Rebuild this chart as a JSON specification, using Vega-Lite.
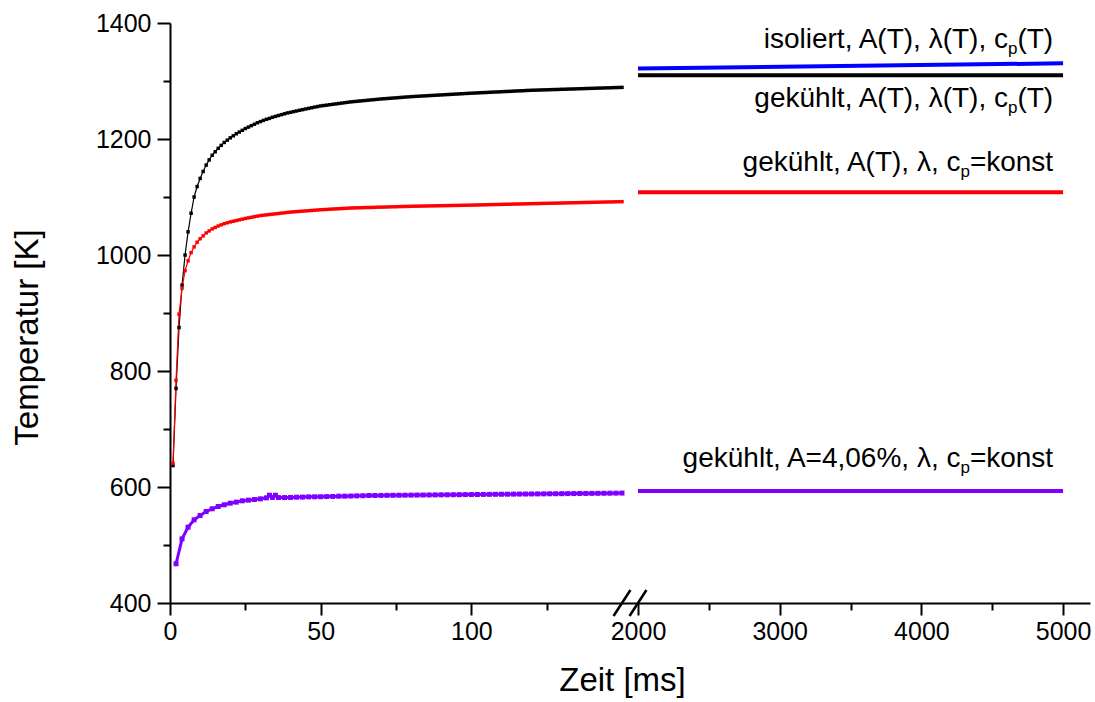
{
  "$schema": "https://vega.github.io/schema/vega-lite/v6.json",
  "width": 920,
  "height": 580,
  "autosize": "none",
  "padding": {"left": 170, "top": 23, "right": 5, "bottom": 99},
  "background": "white",
  "datasets": {
    "curves": [
      {"s":"u","t":2000,"T":1321.5},{"s":"u","t":5000,"T":1330.5},
      {"s":"b","t":2000,"T":1310},{"s":"b","t":5000,"T":1310},
      {"s":"r","t":2000,"T":1108},{"s":"r","t":5000,"T":1108},
      {"s":"v","t":2000,"T":593},{"s":"v","t":5000,"T":593},
      {"s":"b","t":1,"T":637},{"s":"b","t":2,"T":770},{"s":"b","t":3,"T":875},{"s":"b","t":4,"T":948},{"s":"b","t":5,"T":1000},
      {"s":"b","t":6,"T":1040},{"s":"b","t":7,"T":1072},{"s":"b","t":8,"T":1100},{"s":"b","t":9,"T":1118},{"s":"b","t":10,"T":1132},
      {"s":"b","t":11,"T":1144},{"s":"b","t":12,"T":1155},{"s":"b","t":13,"T":1164},{"s":"b","t":14,"T":1172},{"s":"b","t":15,"T":1178},
      {"s":"b","t":16,"T":1184},{"s":"b","t":17,"T":1189},{"s":"b","t":18,"T":1194},{"s":"b","t":19,"T":1198},{"s":"b","t":20,"T":1202},
      {"s":"b","t":21,"T":1205.5},{"s":"b","t":22,"T":1209},{"s":"b","t":23,"T":1212},{"s":"b","t":24,"T":1215},{"s":"b","t":25,"T":1218},
      {"s":"b","t":26,"T":1220.5},{"s":"b","t":27,"T":1223},{"s":"b","t":28,"T":1225.5},{"s":"b","t":29,"T":1228},{"s":"b","t":30,"T":1230},
      {"s":"b","t":31,"T":1232},{"s":"b","t":32,"T":1234},{"s":"b","t":33,"T":1235.5},{"s":"b","t":34,"T":1237.5},{"s":"b","t":35,"T":1239},
      {"s":"b","t":36,"T":1240.5},{"s":"b","t":37,"T":1242},{"s":"b","t":38,"T":1243.5},{"s":"b","t":39,"T":1245},{"s":"b","t":40,"T":1246},
      {"s":"b","t":41,"T":1247.2},{"s":"b","t":42,"T":1248.3},{"s":"b","t":43,"T":1249.5},{"s":"b","t":44,"T":1250.6},{"s":"b","t":45,"T":1251.7},
      {"s":"b","t":46,"T":1252.8},{"s":"b","t":47,"T":1253.9},{"s":"b","t":48,"T":1255},{"s":"b","t":49,"T":1256},{"s":"b","t":50,"T":1257},
      {"s":"b","t":51,"T":1257.7},{"s":"b","t":52,"T":1258.4},{"s":"b","t":53,"T":1259.1},{"s":"b","t":54,"T":1259.8},{"s":"b","t":55,"T":1260.5},
      {"s":"b","t":56,"T":1261.2},{"s":"b","t":57,"T":1261.9},{"s":"b","t":58,"T":1262.6},{"s":"b","t":59,"T":1263.3},{"s":"b","t":60,"T":1264},
      {"s":"b","t":61,"T":1264.5},{"s":"b","t":62,"T":1265},{"s":"b","t":63,"T":1265.5},{"s":"b","t":64,"T":1266},{"s":"b","t":65,"T":1266.5},
      {"s":"b","t":66,"T":1267},{"s":"b","t":67,"T":1267.5},{"s":"b","t":68,"T":1268},{"s":"b","t":69,"T":1268.5},{"s":"b","t":70,"T":1269},
      {"s":"b","t":71,"T":1269.4},{"s":"b","t":72,"T":1269.8},{"s":"b","t":73,"T":1270.2},{"s":"b","t":74,"T":1270.6},{"s":"b","t":75,"T":1271},
      {"s":"b","t":76,"T":1271.4},{"s":"b","t":77,"T":1271.8},{"s":"b","t":78,"T":1272.2},{"s":"b","t":79,"T":1272.6},{"s":"b","t":80,"T":1273},
      {"s":"b","t":81,"T":1273.3},{"s":"b","t":82,"T":1273.6},{"s":"b","t":83,"T":1273.9},{"s":"b","t":84,"T":1274.2},{"s":"b","t":85,"T":1274.5},
      {"s":"b","t":86,"T":1274.8},{"s":"b","t":87,"T":1275.1},{"s":"b","t":88,"T":1275.4},{"s":"b","t":89,"T":1275.7},{"s":"b","t":90,"T":1276},
      {"s":"b","t":91,"T":1276.3},{"s":"b","t":92,"T":1276.6},{"s":"b","t":93,"T":1276.9},{"s":"b","t":94,"T":1277.2},{"s":"b","t":95,"T":1277.5},
      {"s":"b","t":96,"T":1277.8},{"s":"b","t":97,"T":1278.1},{"s":"b","t":98,"T":1278.4},{"s":"b","t":99,"T":1278.7},{"s":"b","t":100,"T":1279},
      {"s":"b","t":101,"T":1279.2},{"s":"b","t":102,"T":1279.5},{"s":"b","t":103,"T":1279.8},{"s":"b","t":104,"T":1280},{"s":"b","t":105,"T":1280.2},
      {"s":"b","t":106,"T":1280.5},{"s":"b","t":107,"T":1280.8},{"s":"b","t":108,"T":1281},{"s":"b","t":109,"T":1281.2},{"s":"b","t":110,"T":1281.5},
      {"s":"b","t":111,"T":1281.8},{"s":"b","t":112,"T":1282},{"s":"b","t":113,"T":1282.2},{"s":"b","t":114,"T":1282.5},{"s":"b","t":115,"T":1282.8},
      {"s":"b","t":116,"T":1283},{"s":"b","t":117,"T":1283.2},{"s":"b","t":118,"T":1283.5},{"s":"b","t":119,"T":1283.8},{"s":"b","t":120,"T":1284},
      {"s":"b","t":121,"T":1284.2},{"s":"b","t":122,"T":1284.3},{"s":"b","t":123,"T":1284.5},{"s":"b","t":124,"T":1284.7},{"s":"b","t":125,"T":1284.8},
      {"s":"b","t":126,"T":1285},{"s":"b","t":127,"T":1285.2},{"s":"b","t":128,"T":1285.3},{"s":"b","t":129,"T":1285.5},{"s":"b","t":130,"T":1285.7},
      {"s":"b","t":131,"T":1285.8},{"s":"b","t":132,"T":1286},{"s":"b","t":133,"T":1286.2},{"s":"b","t":134,"T":1286.3},{"s":"b","t":135,"T":1286.5},
      {"s":"b","t":136,"T":1286.7},{"s":"b","t":137,"T":1286.8},{"s":"b","t":138,"T":1287},{"s":"b","t":139,"T":1287.2},{"s":"b","t":140,"T":1287.3},
      {"s":"b","t":141,"T":1287.5},{"s":"b","t":142,"T":1287.7},{"s":"b","t":143,"T":1287.8},{"s":"b","t":144,"T":1288},{"s":"b","t":145,"T":1288.2},
      {"s":"b","t":146,"T":1288.3},{"s":"b","t":147,"T":1288.5},{"s":"b","t":148,"T":1288.7},{"s":"b","t":149,"T":1288.8},{"s":"b","t":150,"T":1289},
      {"s":"r","t":1,"T":641},{"s":"r","t":2,"T":784},{"s":"r","t":3,"T":898},{"s":"r","t":4,"T":943},{"s":"r","t":5,"T":973},
      {"s":"r","t":6,"T":990},{"s":"r","t":7,"T":1004},{"s":"r","t":8,"T":1014},{"s":"r","t":9,"T":1022},{"s":"r","t":10,"T":1028},
      {"s":"r","t":11,"T":1033},{"s":"r","t":12,"T":1038},{"s":"r","t":13,"T":1041.5},{"s":"r","t":14,"T":1045},{"s":"r","t":15,"T":1047.5},
      {"s":"r","t":16,"T":1050},{"s":"r","t":17,"T":1052},{"s":"r","t":18,"T":1054},{"s":"r","t":19,"T":1055.5},{"s":"r","t":20,"T":1057},
      {"s":"r","t":21,"T":1058.2},{"s":"r","t":22,"T":1059.4},{"s":"r","t":23,"T":1060.6},{"s":"r","t":24,"T":1061.8},{"s":"r","t":25,"T":1063},
      {"s":"r","t":26,"T":1064},{"s":"r","t":27,"T":1065},{"s":"r","t":28,"T":1066},{"s":"r","t":29,"T":1067},{"s":"r","t":30,"T":1068},
      {"s":"r","t":31,"T":1068.6},{"s":"r","t":32,"T":1069.2},{"s":"r","t":33,"T":1069.8},{"s":"r","t":34,"T":1070.4},{"s":"r","t":35,"T":1071},
      {"s":"r","t":36,"T":1071.6},{"s":"r","t":37,"T":1072.2},{"s":"r","t":38,"T":1072.8},{"s":"r","t":39,"T":1073.4},{"s":"r","t":40,"T":1074},
      {"s":"r","t":41,"T":1074.4},{"s":"r","t":42,"T":1074.8},{"s":"r","t":43,"T":1075.2},{"s":"r","t":44,"T":1075.6},{"s":"r","t":45,"T":1076},
      {"s":"r","t":46,"T":1076.4},{"s":"r","t":47,"T":1076.8},{"s":"r","t":48,"T":1077.2},{"s":"r","t":49,"T":1077.6},{"s":"r","t":50,"T":1078},
      {"s":"r","t":51,"T":1078.3},{"s":"r","t":52,"T":1078.6},{"s":"r","t":53,"T":1078.9},{"s":"r","t":54,"T":1079.2},{"s":"r","t":55,"T":1079.5},
      {"s":"r","t":56,"T":1079.8},{"s":"r","t":57,"T":1080.1},{"s":"r","t":58,"T":1080.4},{"s":"r","t":59,"T":1080.7},{"s":"r","t":60,"T":1081},
      {"s":"r","t":61,"T":1081.2},{"s":"r","t":62,"T":1081.3},{"s":"r","t":63,"T":1081.5},{"s":"r","t":64,"T":1081.6},{"s":"r","t":65,"T":1081.8},
      {"s":"r","t":66,"T":1081.9},{"s":"r","t":67,"T":1082},{"s":"r","t":68,"T":1082.2},{"s":"r","t":69,"T":1082.4},{"s":"r","t":70,"T":1082.5},
      {"s":"r","t":71,"T":1082.6},{"s":"r","t":72,"T":1082.8},{"s":"r","t":73,"T":1083},{"s":"r","t":74,"T":1083.1},{"s":"r","t":75,"T":1083.2},
      {"s":"r","t":76,"T":1083.4},{"s":"r","t":77,"T":1083.6},{"s":"r","t":78,"T":1083.7},{"s":"r","t":79,"T":1083.8},{"s":"r","t":80,"T":1084},
      {"s":"r","t":81,"T":1084.1},{"s":"r","t":82,"T":1084.2},{"s":"r","t":83,"T":1084.3},{"s":"r","t":84,"T":1084.4},{"s":"r","t":85,"T":1084.5},
      {"s":"r","t":86,"T":1084.6},{"s":"r","t":87,"T":1084.7},{"s":"r","t":88,"T":1084.8},{"s":"r","t":89,"T":1084.9},{"s":"r","t":90,"T":1085},
      {"s":"r","t":91,"T":1085.1},{"s":"r","t":92,"T":1085.2},{"s":"r","t":93,"T":1085.3},{"s":"r","t":94,"T":1085.4},{"s":"r","t":95,"T":1085.5},
      {"s":"r","t":96,"T":1085.6},{"s":"r","t":97,"T":1085.7},{"s":"r","t":98,"T":1085.8},{"s":"r","t":99,"T":1085.9},{"s":"r","t":100,"T":1086},
      {"s":"r","t":101,"T":1086.1},{"s":"r","t":102,"T":1086.2},{"s":"r","t":103,"T":1086.4},{"s":"r","t":104,"T":1086.5},{"s":"r","t":105,"T":1086.6},
      {"s":"r","t":106,"T":1086.8},{"s":"r","t":107,"T":1086.9},{"s":"r","t":108,"T":1087},{"s":"r","t":109,"T":1087.1},{"s":"r","t":110,"T":1087.2},
      {"s":"r","t":111,"T":1087.4},{"s":"r","t":112,"T":1087.5},{"s":"r","t":113,"T":1087.6},{"s":"r","t":114,"T":1087.8},{"s":"r","t":115,"T":1087.9},
      {"s":"r","t":116,"T":1088},{"s":"r","t":117,"T":1088.1},{"s":"r","t":118,"T":1088.2},{"s":"r","t":119,"T":1088.4},{"s":"r","t":120,"T":1088.5},
      {"s":"r","t":121,"T":1088.6},{"s":"r","t":122,"T":1088.7},{"s":"r","t":123,"T":1088.9},{"s":"r","t":124,"T":1089},{"s":"r","t":125,"T":1089.1},
      {"s":"r","t":126,"T":1089.2},{"s":"r","t":127,"T":1089.3},{"s":"r","t":128,"T":1089.4},{"s":"r","t":129,"T":1089.5},{"s":"r","t":130,"T":1089.6},
      {"s":"r","t":131,"T":1089.8},{"s":"r","t":132,"T":1089.9},{"s":"r","t":133,"T":1090},{"s":"r","t":134,"T":1090.1},{"s":"r","t":135,"T":1090.2},
      {"s":"r","t":136,"T":1090.4},{"s":"r","t":137,"T":1090.5},{"s":"r","t":138,"T":1090.6},{"s":"r","t":139,"T":1090.7},{"s":"r","t":140,"T":1090.8},
      {"s":"r","t":141,"T":1090.9},{"s":"r","t":142,"T":1091},{"s":"r","t":143,"T":1091.2},{"s":"r","t":144,"T":1091.3},{"s":"r","t":145,"T":1091.4},
      {"s":"r","t":146,"T":1091.5},{"s":"r","t":147,"T":1091.6},{"s":"r","t":148,"T":1091.8},{"s":"r","t":149,"T":1091.9},{"s":"r","t":150,"T":1092},
      {"s":"v","t":2,"T":467.6},{"s":"v","t":4,"T":510.6},{"s":"v","t":6,"T":530.7},{"s":"v","t":8,"T":543.4},{"s":"v","t":10,"T":550.9},
      {"s":"v","t":12,"T":557.8},{"s":"v","t":14,"T":562.4},{"s":"v","t":16,"T":566.4},{"s":"v","t":18,"T":569.3},{"s":"v","t":20,"T":572.1},
      {"s":"v","t":22,"T":573.9},{"s":"v","t":24,"T":576.2},{"s":"v","t":26,"T":577.3},{"s":"v","t":28,"T":578.4},{"s":"v","t":30,"T":579.6},
      {"s":"v","t":32,"T":581.3},{"s":"v","t":33,"T":585.8},{"s":"v","t":34,"T":582},{"s":"v","t":35,"T":585.8},{"s":"v","t":36,"T":581.8},
      {"s":"v","t":38,"T":581.8},{"s":"v","t":40,"T":582},{"s":"v","t":42,"T":582.4},{"s":"v","t":44,"T":582.6},{"s":"v","t":46,"T":583},
      {"s":"v","t":48,"T":583.1},{"s":"v","t":50,"T":583.2},{"s":"v","t":52,"T":583.5},{"s":"v","t":54,"T":583.7},{"s":"v","t":56,"T":584.1},
      {"s":"v","t":58,"T":584.2},{"s":"v","t":60,"T":584.4},{"s":"v","t":62,"T":584.7},{"s":"v","t":64,"T":584.9},{"s":"v","t":66,"T":585.3},
      {"s":"v","t":68,"T":585.4},{"s":"v","t":70,"T":585.5},{"s":"v","t":72,"T":585.6},{"s":"v","t":74,"T":585.7},{"s":"v","t":76,"T":585.8},
      {"s":"v","t":78,"T":585.9},{"s":"v","t":80,"T":586},{"s":"v","t":82,"T":586.1},{"s":"v","t":84,"T":586.2},{"s":"v","t":86,"T":586.3},
      {"s":"v","t":88,"T":586.4},{"s":"v","t":90,"T":586.5},{"s":"v","t":92,"T":586.6},{"s":"v","t":94,"T":586.7},{"s":"v","t":96,"T":586.8},
      {"s":"v","t":98,"T":586.9},{"s":"v","t":100,"T":587},{"s":"v","t":102,"T":587.1},{"s":"v","t":104,"T":587.2},{"s":"v","t":106,"T":587.3},
      {"s":"v","t":108,"T":587.4},{"s":"v","t":110,"T":587.5},{"s":"v","t":112,"T":587.6},{"s":"v","t":114,"T":587.7},{"s":"v","t":116,"T":587.8},
      {"s":"v","t":118,"T":587.9},{"s":"v","t":120,"T":588},{"s":"v","t":122,"T":588.1},{"s":"v","t":124,"T":588.2},{"s":"v","t":126,"T":588.3},
      {"s":"v","t":128,"T":588.4},{"s":"v","t":130,"T":588.5},{"s":"v","t":132,"T":588.6},{"s":"v","t":134,"T":588.7},{"s":"v","t":136,"T":588.8},
      {"s":"v","t":138,"T":588.9},{"s":"v","t":140,"T":589},{"s":"v","t":142,"T":589.1},{"s":"v","t":144,"T":589.2},{"s":"v","t":146,"T":589.3},
      {"s":"v","t":148,"T":589.4},{"s":"v","t":150,"T":589.5}
    ],
    "labels": [
      {"t":4930,"T":1357,"main":"isoliert, A(T), λ(T), c","sub":"p","tail":"(T)"},
      {"t":4930,"T":1256,"main":"gekühlt, A(T), λ(T), c","sub":"p","tail":"(T)"},
      {"t":4930,"T":1144,"main":"gekühlt, A(T), λ, c","sub":"p","tail":"=konst"},
      {"t":4930,"T":635,"main":"gekühlt, A=4,06%, λ, c","sub":"p","tail":"=konst"}
    ],
    "breaks": [
      {"t":150,"T":400},
      {"t":2000,"T":400}
    ]
  },
  "encoding": {
    "x": {"field": "t", "type": "quantitative",
      "scale": {"domain": [0, 150, 2000, 5190], "range": [0, 452, 468, 920], "nice": false, "zero": false},
      "axis": null},
    "y": {"field": "T", "type": "quantitative",
      "scale": {"domain": [400, 1400], "nice": false, "zero": false},
      "axis": null}
  },
  "resolve": {"axis": {"x": "independent", "y": "independent"}},
  "layer": [
    {
      "data": {"name": "curves"},
      "transform": [{"filter": "datum.t >= 2000"}],
      "mark": {"type": "line", "strokeWidth": 4, "strokeCap": "butt"},
      "encoding": {
        "x": {"field": "t", "type": "quantitative",
          "scale": {"domain": [0, 150, 2000, 5190], "range": [0, 452, 468, 920], "nice": false, "zero": false},
          "axis": {
            "title": "Zeit [ms]",
            "orient": "bottom",
            "values": [0, 50, 100, 2000, 3000, 4000, 5000],
            "format": "d",
            "tickSize": 12,
            "labelFlush": false,
            "labelOverlap": false,
            "labelPadding": 4,
            "titleX": 452,
            "titlePadding": 20
          }
        },
        "y": {"field": "T", "type": "quantitative",
          "scale": {"domain": [400, 1400], "nice": false, "zero": false},
          "axis": {
            "title": "Temperatur [K]",
            "orient": "left",
            "values": [400, 600, 800, 1000, 1200, 1400],
            "format": "d",
            "tickSize": 13,
            "labelOverlap": false,
            "labelPadding": 6,
            "titleY": 314,
            "titlePadding": 51
          }
        },
        "detail": {"field": "s"},
        "color": {"field": "s", "type": "nominal",
          "scale": {"domain": ["u", "b", "r", "v"], "range": ["#0000ff", "#000000", "#ff0000", "#8000ff"]},
          "legend": null}
      }
    },
    {
      "data": {"name": "curves"},
      "transform": [{"filter": "datum.t <= 150 && datum.s != 'v'"}],
      "mark": {"type": "line", "strokeWidth": 1.2},
      "encoding": {"color": {"field": "s", "type": "nominal", "legend": null}}
    },
    {
      "data": {"name": "curves"},
      "transform": [{"filter": "datum.t <= 150 && datum.s != 'v'"}],
      "mark": {"type": "square", "size": 12, "opacity": 1},
      "encoding": {"color": {"field": "s", "type": "nominal", "legend": null}}
    },
    {
      "data": {"name": "curves"},
      "transform": [{"filter": "datum.t <= 150 && datum.s == 'v'"}],
      "mark": {"type": "line", "strokeWidth": 3},
      "encoding": {"color": {"field": "s", "type": "nominal", "legend": null}}
    },
    {
      "data": {"name": "curves"},
      "transform": [{"filter": "datum.t <= 150 && datum.s == 'v'"}],
      "mark": {"type": "square", "size": 25, "opacity": 1},
      "encoding": {"color": {"field": "s", "type": "nominal", "legend": null}}
    },
    {
      "data": {"name": "labels"},
      "mark": {"type": "text", "align": "right", "baseline": "alphabetic", "fontSize": 28, "color": "black"},
      "encoding": {"text": {"field": "tail"}}
    },
    {
      "data": {"name": "labels"},
      "transform": [{"filter": "datum.tail == '(T)'"}],
      "mark": {"type": "text", "align": "right", "baseline": "alphabetic", "fontSize": 17, "dx": -35.8, "dy": 6, "color": "black"},
      "encoding": {"text": {"field": "sub"}}
    },
    {
      "data": {"name": "labels"},
      "transform": [{"filter": "datum.tail == '=konst'"}],
      "mark": {"type": "text", "align": "right", "baseline": "alphabetic", "fontSize": 17, "dx": -83.3, "dy": 6, "color": "black"},
      "encoding": {"text": {"field": "sub"}}
    },
    {
      "data": {"name": "labels"},
      "transform": [{"filter": "datum.tail == '(T)'"}],
      "mark": {"type": "text", "align": "right", "baseline": "alphabetic", "fontSize": 28, "dx": -45.2, "color": "black"},
      "encoding": {"text": {"field": "main"}}
    },
    {
      "data": {"name": "labels"},
      "transform": [{"filter": "datum.tail == '=konst'"}],
      "mark": {"type": "text", "align": "right", "baseline": "alphabetic", "fontSize": 28, "dx": -92.7, "color": "black"},
      "encoding": {"text": {"field": "main"}}
    },
    {
      "data": {"name": "breaks"},
      "mark": {"type": "point", "shape": "M-0.65,1L0.65,-1", "size": 676, "filled": false, "stroke": "black", "strokeWidth": 2.5, "opacity": 1},
      "encoding": {
        "x": {"field": "t", "type": "quantitative",
          "scale": {"domain": [0, 150, 2000, 5190], "range": [0, 452, 468, 920], "nice": false, "zero": false},
          "axis": {
            "title": null,
            "orient": "bottom",
            "values": [25, 75, 125, 2500, 3500, 4500],
            "labels": false,
            "domain": false,
            "tickSize": 7
          }
        },
        "y": {"field": "T", "type": "quantitative",
          "scale": {"domain": [400, 1400], "nice": false, "zero": false},
          "axis": {
            "title": null,
            "orient": "left",
            "values": [500, 700, 900, 1100, 1300],
            "labels": false,
            "domain": false,
            "tickSize": 7
          }
        }
      }
    }
  ],
  "config": {
    "font": "Liberation Sans",
    "view": {"stroke": null},
    "text": {"font": "Liberation Sans"},
    "axis": {
      "grid": false,
      "domainColor": "black",
      "domainWidth": 2,
      "tickColor": "black",
      "tickWidth": 2,
      "labelFont": "Liberation Sans",
      "labelFontSize": 25,
      "labelColor": "black",
      "titleFont": "Liberation Sans",
      "titleFontSize": 33,
      "titleFontWeight": "normal",
      "titleColor": "black"
    }
  }
}
